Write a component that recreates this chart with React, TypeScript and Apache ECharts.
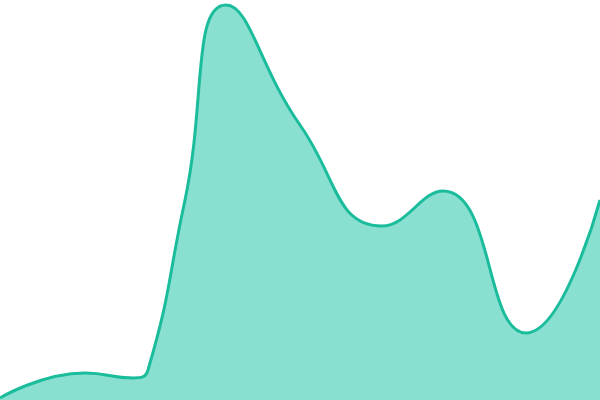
import { useEffect, useRef } from "react";
import * as echarts from "echarts";

// x positions (0–600) and heights (0–400)
const xs = [0, 85, 133, 148, 185, 226, 300, 382, 443, 526, 600];
const values = [2, 27, 22, 30, 200, 395, 275, 174, 209, 67, 200];

export default function App() {
  const ref = useRef<HTMLDivElement | null>(null);

  useEffect(() => {
    if (!ref.current) return;
    const chart = echarts.init(ref.current, undefined, { renderer: "svg" });
    chart.setOption({
      animation: false,
      grid: { left: 0, right: 0, top: 0, bottom: 0 },
      xAxis: { type: "value", min: 0, max: 600, show: false },
      yAxis: { type: "value", min: 0, max: 400, show: false },
      series: [
        {
          type: "line",
          data: xs.map((x, i) => [x, values[i]]),
          smooth: true,
          symbol: "none",
          lineStyle: { color: "#1abc9c", width: 3 },
          areaStyle: { color: "#8ae0d0", opacity: 1 },
        },
      ],
    });
    return () => chart.dispose();
  }, []);

  return (
    <div
      ref={ref}
      style={{ position: "fixed", left: 0, top: 0, width: 600, height: 400 }}
    />
  );
}
